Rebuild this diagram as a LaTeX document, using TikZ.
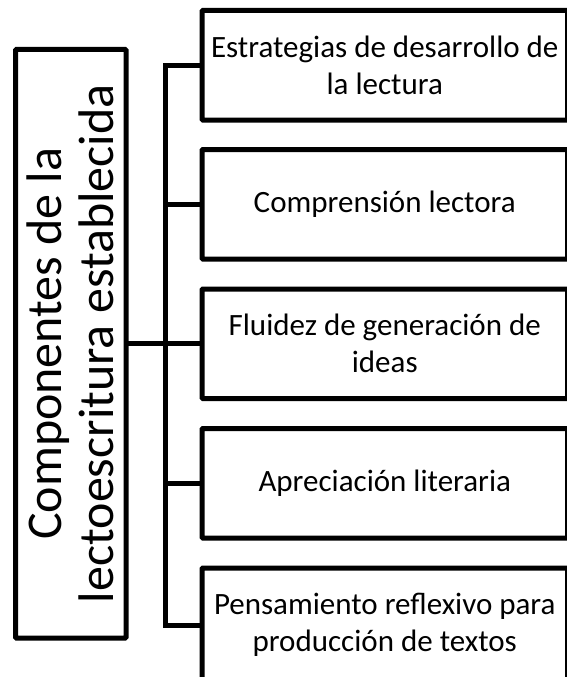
\documentclass[tikz,border=0pt]{standalone}
\usepackage{fontspec}
\setmainfont{Carlito}
\begin{document}
\begin{tikzpicture}[x=1pt,y=-1pt]
\tikzset{
  box/.style={draw=black, line width=5pt, rounded corners=1pt, inner sep=0pt, outer sep=0pt, align=center},
  itembox/.style={box, minimum width=365.5pt, minimum height=109.5pt, font=\fontsize{31}{37}\selectfont},
  conn/.style={draw=black, line width=5pt}
}
\clip (0,0) rectangle (567,677);
\node[box, minimum width=110.5pt, minimum height=588.5pt] (root) at (70.75,343.75) {};
\node[rotate=90, align=center, inner sep=0pt, font=\fontsize{50}{52}\selectfont] (roottext) at (root.center) {Componentes de la\\lectoescritura establecida};
\node[itembox] (b1) at (384.75,65.25) {Estrategias de desarrollo de\\la lectura};
\node[itembox] (b2) at (384.75,204.25) {Comprensión lectora};
\node[itembox] (b3) at (384.75,343.75) {Fluidez de generación de\\ideas};
\node[itembox] (b4) at (384.75,483.25) {Apreciación literaria};
\node[itembox, minimum height=114pt] (b5) at (384.75,625) {Pensamiento reflexivo para\\producción de textos};
\coordinate (bus) at (165,343.75);
\draw[conn] (b1.west) -| (bus) |- (b5.west);
\draw[conn] (b2.west) -- (b2.west -| bus);
\draw[conn] (b4.west) -- (b4.west -| bus);
\draw[conn] (root.east) -- (b3.west);
\end{tikzpicture}
\end{document}
